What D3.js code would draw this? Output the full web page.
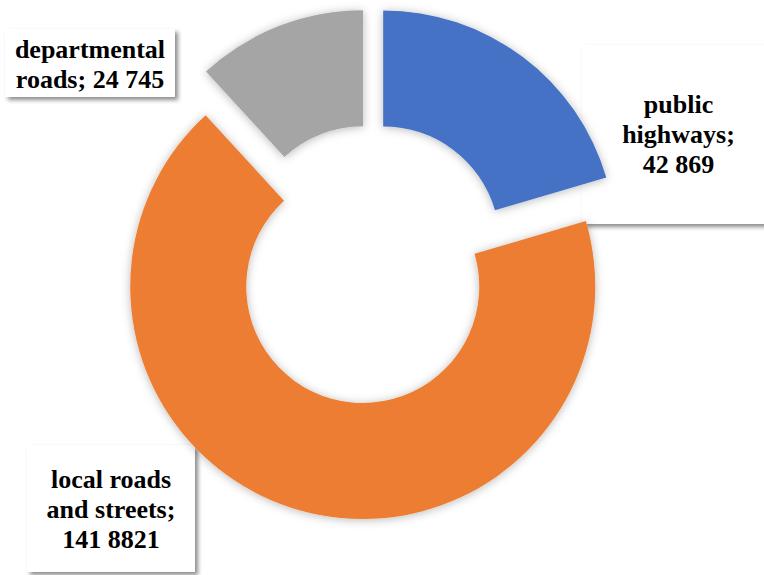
<!DOCTYPE html>
<html>
<head>
<meta charset="utf-8">
<script src="https://cdn.jsdelivr.net/npm/d3@7"></script>
<style>
  body { margin: 0; background: #fff; }
  svg { display: block; }
  .lbl { font-family: 'Liberation Serif', 'Times New Roman', Times, 'DejaVu Serif', serif; font-weight: bold; font-size: 26px; }
</style>
</head>
<body>
<svg id="board" width="764" height="575"></svg>
<script>
let categories = ['public highways', 'local roads and streets', 'departmental roads']
let values = [42869, 141882, 24745]
let valueLabels = ['42 869', '141 8821', '24 745']
let colors = ['#4472C4', '#ED7D31', '#A5A5A5']

// label boxes (layout only)
let labelBoxes = [
    { x: 582, y: 45, w: 193, h: 179, lines: ['public', 'highways;', '42 869'], base: 113 },
    { x: 27, y: 445, w: 168, h: 127, lines: ['local roads', 'and streets;', '141 8821'], base: 488 },
    { x: 5, y: 29, w: 170, h: 68, lines: ['departmental', 'roads; 24 745'], base: 58 }
]
let explode = [22, 27, 19]

let cx = 370, cy = 260.5
let outerR = 232.5, innerR = 116.5

let board = d3.select('#board')

let defs = board.append('defs')
let glow = defs.append('filter').attr('id', 'glow')
    .attr('x', '-20%').attr('y', '-20%').attr('width', '140%').attr('height', '140%')
glow.append('feDropShadow')
    .attr('dx', 0).attr('dy', 1)
    .attr('stdDeviation', 5)
    .attr('flood-color', '#000')
    .attr('flood-opacity', 0.28)

let boxShadow = defs.append('filter').attr('id', 'boxShadow')
    .attr('x', '-20%').attr('y', '-20%').attr('width', '140%').attr('height', '140%')
boxShadow.append('feDropShadow')
    .attr('dx', 3).attr('dy', 3)
    .attr('stdDeviation', 2)
    .attr('flood-color', '#000')
    .attr('flood-opacity', 0.45)

let pie = d3.pie().sort(null).value((d) => d)
let arcs = pie(values)
let arc = d3.arc().innerRadius(innerR).outerRadius(outerR)

// labels go under the slices
let labels = board.append('g').selectAll('g')
    .data(arcs)
    .enter()
    .append('g')

labels.append('rect')
    .attr('x', (d, i) => labelBoxes[i].x)
    .attr('y', (d, i) => labelBoxes[i].y)
    .attr('width', (d, i) => labelBoxes[i].w)
    .attr('height', (d, i) => labelBoxes[i].h)
    .attr('fill', '#fff')
    .attr('filter', 'url(#boxShadow)')

labels.append('text')
    .attr('class', 'lbl')
    .attr('text-anchor', 'middle')
    .attr('fill', '#000')
    .attr('data-label', (d, i) => categories[i] + '; ' + valueLabels[i])
    .each(function(d, i) {
        let b = labelBoxes[i]
        d3.select(this).selectAll('tspan')
            .data(b.lines)
            .enter()
            .append('tspan')
            .attr('x', b.x + b.w / 2)
            .attr('y', (l, j) => b.base + j * 30)
            .text((l) => l)
    })

board.append('g')
    .attr('transform', 'translate(' + cx + ',' + cy + ')')
    .selectAll('path')
    .data(arcs)
    .enter()
    .append('path')
    .attr('d', arc)
    .attr('fill', (d, i) => colors[i])
    .attr('filter', 'url(#glow)')
    .attr('transform', (d, i) => {
        let mid = (d.startAngle + d.endAngle) / 2
        let dx = Math.sin(mid) * explode[i]
        let dy = -Math.cos(mid) * explode[i]
        return 'translate(' + dx + ',' + dy + ')'
    })
</script>
</body>
</html>
